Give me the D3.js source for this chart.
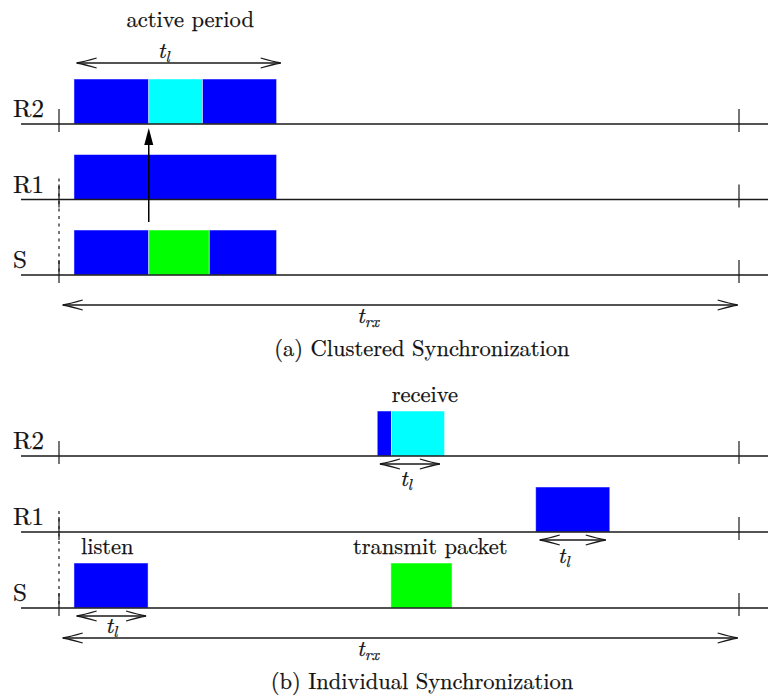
<!DOCTYPE html>
<html>
<head>
<meta charset="utf-8">
<script src="https://cdn.jsdelivr.net/npm/d3@7"></script>
<style>
  html, body { margin: 0; padding: 0; background: #fff; }
  svg { display: block; }
</style>
</head>
<body>
<svg id="chart" width="768" height="696"></svg>
<script>
// Nodes, top to bottom
const rows = ["R2", "R1", "S"];

// Radio activity in one receive-check interval (time in % of t_rx)
const clusteredSegments = [
  { row: "R2", start: 2.2,  end: 13.2, kind: "listen" },
  { row: "R2", start: 13.2, end: 21.1, kind: "receive" },
  { row: "R2", start: 21.1, end: 32.0, kind: "listen" },
  { row: "R1", start: 2.2,  end: 32.0, kind: "listen" },
  { row: "S",  start: 2.2,  end: 13.2, kind: "listen" },
  { row: "S",  start: 13.2, end: 22.1, kind: "transmit" },
  { row: "S",  start: 22.1, end: 32.0, kind: "listen" }
];
const individualSegments = [
  { row: "R2", start: 46.8, end: 48.9, kind: "listen" },
  { row: "R2", start: 48.9, end: 56.7, kind: "receive" },
  { row: "R1", start: 70.1, end: 81.0, kind: "listen" },
  { row: "S",  start: 2.2,  end: 13.1, kind: "listen" },
  { row: "S",  start: 48.8, end: 57.8, kind: "transmit" }
];

// Listen-interval spans t_l
const clusteredSpans = [ { row: "R2", start: 2.6, end: 32.6, side: "above" } ];
const individualSpans = [
  { row: "R2", start: 47.2, end: 56.0, side: "below" },
  { row: "R1", start: 70.7, end: 80.4, side: "below" },
  { row: "S",  start: 2.6,  end: 12.8, side: "below" }
];

// Packet forwarded from S to R2 in the clustered schedule
const forwardArrow = { from: "S", to: "R2", at: 13.2 };

// Full receive-check interval t_rx
const frameSpan = { start: 0.55, end: 99.8 };

// Text annotations, anchored at a time value
const clusteredNotes = [ { text: "active period", at: 19.3 } ];
const individualNotes = [
  { text: "receive", row: "R2", at: 53.8 },
  { text: "listen", row: "S", at: 7.1 },
  { text: "transmit packet", row: "S", at: 54.6 }
];
const captions = ["(a) Clustered Synchronization", "(b) Individual Synchronization"];

const kindColor = { listen: "#0000ff", receive: "#00ffff", transmit: "#00ff00" };

// ---- layout ----
const W = 768;
const FONT = "Latin Modern Roman";
const ink = "#1a1a1a";
const barH = 45;
const labelNudge = { R2: -4, R1: -9, S: 0 };     // t_l label offsets under the spans
const labelDrop  = { R2: 22, R1: 23, S: 17 };

const svg = d3.select("#chart");
const x = d3.scaleLinear().domain([0, 100]).range([59, 739]);

function label(g, px, py, str, size) {
  return g.append("text").attr("x", px).attr("y", py)
    .attr("font-family", FONT).attr("font-size", size)
    .attr("fill", "#111").attr("stroke", "#111").attr("stroke-width", 0.25)
    .text(str);
}

function mathLabel(g, px, py, sub) {
  const t = g.append("text").attr("x", px).attr("y", py)
    .attr("text-anchor", "middle").attr("font-family", FONT)
    .attr("font-size", 23).attr("font-style", "italic")
    .attr("fill", "#111").attr("stroke", "#111").attr("stroke-width", 0.25);
  t.append("tspan").text("t");
  t.append("tspan").attr("dy", 3.5).attr("font-size", 16).text(sub);
}

function spanArrow(g, x0, x1, yy) {
  const head = 20, spread = 5;
  g.append("line").attr("x1", x0).attr("x2", x1).attr("y1", yy).attr("y2", yy)
    .attr("stroke", ink).attr("stroke-width", 1.3);
  const p = d3.path();
  p.moveTo(x0 + head, yy - spread); p.quadraticCurveTo(x0 + 8, yy - 1.5, x0, yy);
  p.quadraticCurveTo(x0 + 8, yy + 1.5, x0 + head, yy + spread);
  p.moveTo(x1 - head, yy - spread); p.quadraticCurveTo(x1 - 8, yy - 1.5, x1, yy);
  p.quadraticCurveTo(x1 - 8, yy + 1.5, x1 - head, yy + spread);
  g.append("path").attr("d", p.toString()).attr("fill", "none")
    .attr("stroke", ink).attr("stroke-width", 1.3);
}

function drawPanel(cfg) {
  const g = svg.append("g");
  const y = d3.scalePoint().domain(rows).range(cfg.yRange);

  // activity bars
  g.selectAll("rect.bar").data(cfg.segments).join("rect")
    .attr("class", "bar")
    .attr("x", d => x(d.start)).attr("width", d => x(d.end) - x(d.start))
    .attr("y", d => y(d.row) - barH).attr("height", barH)
    .attr("fill", d => kindColor[d.kind])
    .attr("stroke", "rgba(255,255,255,0.55)").attr("stroke-width", 0.9);

  // time lines
  g.selectAll("line.base").data(rows).join("line")
    .attr("class", "base")
    .attr("x1", 21).attr("x2", W).attr("y1", d => y(d)).attr("y2", d => y(d))
    .attr("stroke", ink).attr("stroke-width", 1.3);

  // interval boundary ticks
  [0, 100].forEach(t => {
    g.selectAll(null).data(rows).join("line")
      .attr("x1", x(t)).attr("x2", x(t))
      .attr("y1", d => y(d) - 15).attr("y2", d => y(d) + 8)
      .attr("stroke", ink).attr("stroke-width", 1.2);
  });
  g.append("line").attr("x1", x(0)).attr("x2", x(0))
    .attr("y1", y("R1") - 21).attr("y2", y("S"))
    .attr("stroke", ink).attr("stroke-width", 1.2).attr("stroke-dasharray", "3,4.5");

  // row names
  rows.forEach(r => label(g, 13, y(r) - 7, r, 25));

  // t_l spans
  cfg.spans.forEach(s => {
    const cx = (x(s.start) + x(s.end)) / 2;
    if (s.side === "above") {
      const yy = y(s.row) - barH - 16;
      spanArrow(g, x(s.start), x(s.end), yy);
      mathLabel(g, cx - 15, yy - 5, "l");
    } else {
      const yy = y(s.row) + 8;
      spanArrow(g, x(s.start), x(s.end), yy);
      mathLabel(g, cx + labelNudge[s.row], yy + labelDrop[s.row], "l");
    }
  });

  // t_rx span
  const fy = y("S") + 30;
  spanArrow(g, x(frameSpan.start), x(frameSpan.end), fy);
  mathLabel(g, 368, fy + 18, "rx");

  // caption
  label(g, 422, fy + 51, cfg.caption, 22.5).attr("text-anchor", "middle");

  return { g, y };
}

// (a) clustered
const a = drawPanel({ yRange: [124, 275], segments: clusteredSegments, spans: clusteredSpans, caption: captions[0] });
clusteredNotes.forEach(n => {
  label(a.g, x(n.at), 27, n.text, 22.5).attr("text-anchor", "middle");
});
// forwarding arrow S -> R2
{
  const ax = x(forwardArrow.at);
  const yTail = a.y(forwardArrow.from) - barH - 8;
  const yTip = a.y(forwardArrow.to) + 4;
  a.g.append("line").attr("x1", ax).attr("x2", ax).attr("y1", yTail).attr("y2", yTip + 15)
    .attr("stroke", "#000").attr("stroke-width", 1.5);
  const p = d3.path();
  p.moveTo(ax, yTip); p.lineTo(ax - 4.5, yTip + 17); p.lineTo(ax + 4.5, yTip + 17); p.closePath();
  a.g.append("path").attr("d", p.toString()).attr("fill", "#000");
}

// (b) individual
const b = drawPanel({ yRange: [456, 608], segments: individualSegments, spans: individualSpans, caption: captions[1] });
individualNotes.forEach(n => {
  label(b.g, x(n.at), b.y(n.row) - barH - 9, n.text, 22.5).attr("text-anchor", "middle");
});
</script>
</body>
</html>
